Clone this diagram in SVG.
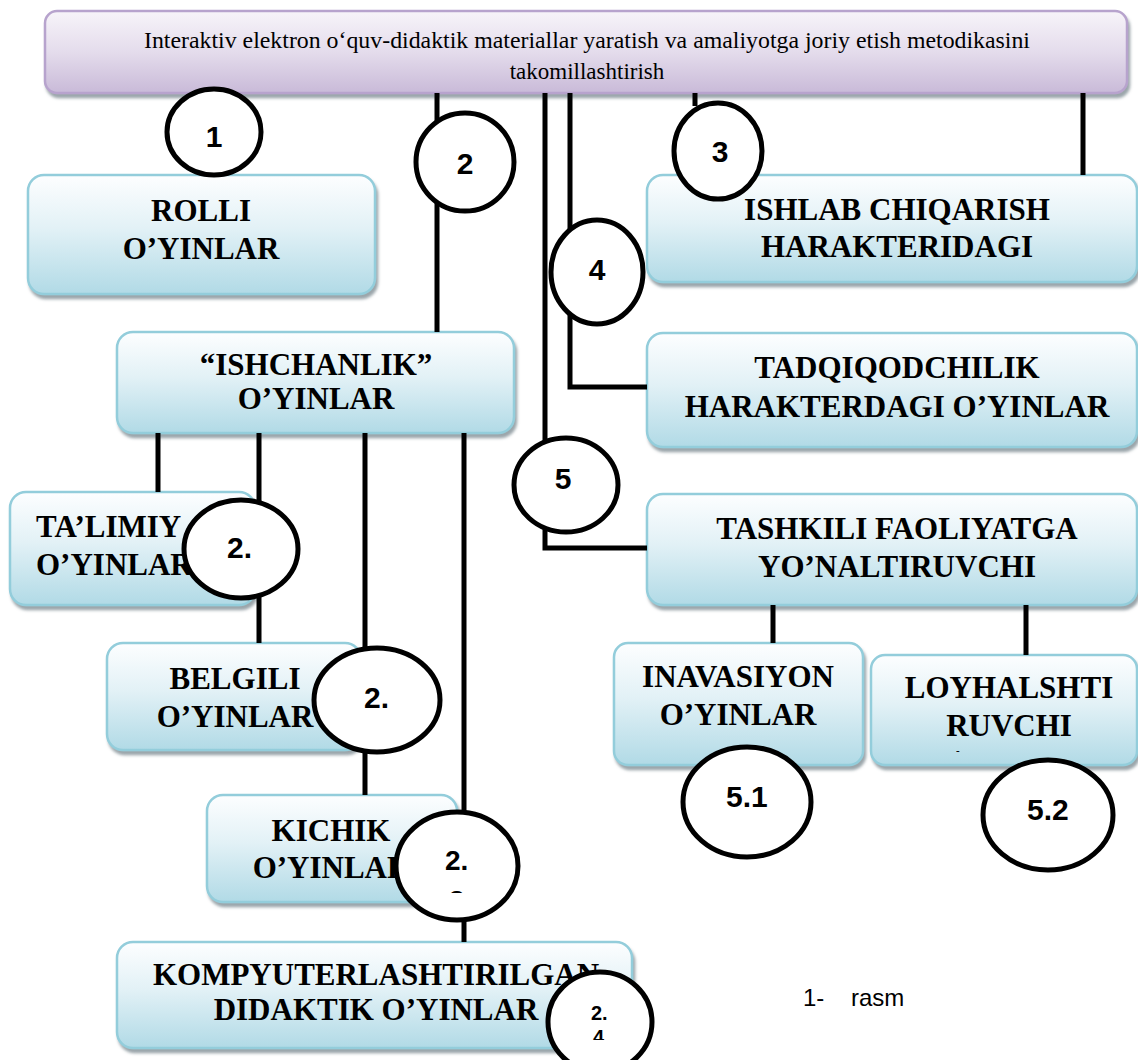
<svg xmlns="http://www.w3.org/2000/svg" width="1138" height="1060" viewBox="0 0 1138 1060">
<defs>
<linearGradient id="gBlue" x1="0" y1="0" x2="0" y2="1">
<stop offset="0" stop-color="#fdfeff"/>
<stop offset="0.45" stop-color="#e2f1f6"/>
<stop offset="1" stop-color="#b1dae6"/>
</linearGradient>
<linearGradient id="gPurple" x1="0" y1="0" x2="0" y2="1">
<stop offset="0" stop-color="#f7f4f9"/>
<stop offset="0.5" stop-color="#e4dcec"/>
<stop offset="1" stop-color="#c9bad8"/>
</linearGradient>
<filter id="shadow" x="-5%" y="-10%" width="115%" height="130%">
<feDropShadow dx="2" dy="4" stdDeviation="1.8" flood-color="#6f7f86" flood-opacity="0.7"/>
</filter>
<clipPath id="clip23"><rect x="400" y="820" width="110" height="73"/></clipPath>
<clipPath id="clip24"><rect x="560" y="990" width="80" height="50"/></clipPath>
</defs>
<style>
.box{fill:url(#gBlue);stroke:#93cddb;stroke-width:2.5;filter:url(#shadow)}
.top{fill:url(#gPurple);stroke:#b7a3cd;stroke-width:2.5;filter:url(#shadow)}
.lbl{font-family:"Liberation Serif","Times New Roman",serif;font-weight:bold;font-size:31px;fill:#000;text-anchor:middle}
.lblS{font-family:"Liberation Serif","Times New Roman",serif;font-weight:bold;font-size:31px;fill:#000}
.head{font-family:"Liberation Serif","Times New Roman",serif;font-size:23px;fill:#000;text-anchor:middle}
.conn{fill:none;stroke:#000;stroke-width:5}
.circ{fill:#fff;stroke:#000;stroke-width:5}
.num{font-family:"Liberation Sans",Arial,sans-serif;font-weight:bold;font-size:30px;fill:#000;text-anchor:middle}
.numS{font-family:"Liberation Sans",Arial,sans-serif;font-weight:bold;font-size:30px;fill:#000}
.cap{font-family:"Liberation Sans",Arial,sans-serif;font-size:24px;fill:#000}
</style>

<g id="node-main">
<rect class="top" x="45" y="11" width="1082" height="82" rx="12"/>
<text class="head" x="587" y="48" textLength="886" lengthAdjust="spacingAndGlyphs">Interaktiv elektron o‘quv-didaktik materiallar yaratish va amaliyotga joriy etish metodikasini</text>
<text class="head" x="587" y="79">takomillashtirish</text>
</g>

<g id="node-rolli">
<rect class="box" x="28" y="175" width="347" height="119" rx="16"/>
<text class="lbl" x="201" y="221">ROLLI</text>
<text class="lbl" x="201" y="259">O’YINLAR</text>
</g>

<g id="node-ishchanlik">
<rect class="box" x="117" y="332" width="397" height="101" rx="16"/>
<text class="lbl" x="316" y="375">“ISHCHANLIK”</text>
<text class="lbl" x="316" y="409">O’YINLAR</text>
</g>

<g id="node-ishlab">
<rect class="box" x="647" y="175" width="490" height="107" rx="16"/>
<text class="lbl" x="897" y="220">ISHLAB CHIQARISH</text>
<text class="lbl" x="897" y="257">HARAKTERIDAGI</text>
</g>

<g id="node-tadqiqod">
<rect class="box" x="647" y="333" width="490" height="114" rx="16"/>
<text class="lbl" x="897" y="378">TADQIQODCHILIK</text>
<text class="lbl" x="897" y="417">HARAKTERDAGI O’YINLAR</text>
</g>

<g id="node-talimiy">
<rect class="box" x="10" y="492" width="245" height="113" rx="16"/>
<text class="lblS" x="36" y="537">TA’LIMIY</text>
<text class="lblS" x="36" y="575">O’YINLAR</text>
</g>

<g id="node-belgili">
<rect class="box" x="107" y="643" width="254" height="107" rx="16"/>
<text class="lbl" x="235" y="689">BELGILI</text>
<text class="lbl" x="235" y="727">O’YINLAR</text>
</g>

<g id="node-tashkili">
<rect class="box" x="647" y="494" width="490" height="111" rx="16"/>
<text class="lbl" x="897" y="539">TASHKILI FAOLIYATGA</text>
<text class="lbl" x="897" y="577">YO’NALTIRUVCHI</text>
</g>

<g id="node-inavasiyon">
<rect class="box" x="614" y="643" width="249" height="122" rx="14"/>
<text class="lbl" x="738" y="687">INAVASIYON</text>
<text class="lbl" x="738" y="725">O’YINLAR</text>
</g>

<g id="node-loyhalshti">
<rect class="box" x="871" y="655" width="266" height="110" rx="14"/>
<text class="lbl" x="1009" y="698">LOYHALSHTI</text>
<text class="lbl" x="1009" y="736">RUVCHI</text>
<text class="lblS" x="956" y="754" style="font-size:11px">-</text>
</g>

<g id="node-kichik">
<rect class="box" x="207" y="795" width="250" height="107" rx="16"/>
<text class="lbl" x="331" y="841">KICHIK</text>
<text class="lbl" x="331" y="878">O’YINLAR</text>
</g>

<g id="node-kompyuter">
<rect class="box" x="117" y="942" width="515" height="106" rx="16"/>
<text class="lbl" x="376" y="985">KOMPYUTERLASHTIRILGAN</text>
<text class="lbl" x="376" y="1020">DIDAKTIK O’YINLAR</text>
</g>

<g id="connectors">
<path class="conn" d="M437 93 V332"/>
<path class="conn" d="M545 93 V548 H647"/>
<path class="conn" d="M570 93 V387 H647"/>
<path class="conn" d="M695 93 V106"/>
<path class="conn" d="M1083 93 V175"/>
<path class="conn" d="M158 433 V492"/>
<path class="conn" d="M259 433 V643"/>
<path class="conn" d="M365 433 V795"/>
<path class="conn" d="M464 433 V942"/>
<path class="conn" d="M773 605 V643"/>
<path class="conn" d="M1026 605 V655"/>
</g>

<g id="badge-1">
<ellipse class="circ" cx="214" cy="132" rx="47" ry="43"/>
<text class="num" x="214" y="147">1</text>
</g>
<g id="badge-2">
<ellipse class="circ" cx="465" cy="162" rx="49" ry="49"/>
<text class="num" x="465" y="174">2</text>
</g>
<g id="badge-3">
<ellipse class="circ" cx="718" cy="151" rx="44" ry="48"/>
<text class="num" x="720" y="162">3</text>
</g>
<g id="badge-4">
<ellipse class="circ" cx="597" cy="272" rx="46" ry="52"/>
<text class="num" x="597" y="280">4</text>
</g>
<g id="badge-5">
<ellipse class="circ" cx="566" cy="485" rx="52" ry="47"/>
<text class="num" x="563" y="489">5</text>
</g>
<g id="badge-2-1">
<ellipse class="circ" cx="241" cy="549" rx="57" ry="49"/>
<text class="numS" x="227" y="558">2.</text>
</g>
<g id="badge-2-2">
<ellipse class="circ" cx="377" cy="700" rx="63" ry="52"/>
<text class="numS" x="364" y="708">2.</text>
</g>
<g id="badge-2-3">
<ellipse class="circ" cx="457" cy="866" rx="61" ry="54"/>
<g clip-path="url(#clip23)">
<text class="numS" x="445" y="870" style="font-size:28px">2.</text>
<text class="numS" x="449" y="910" style="font-size:28px">3</text>
</g>
</g>
<g id="badge-2-4">
<ellipse class="circ" cx="600" cy="1022" rx="52" ry="50"/>
<g clip-path="url(#clip24)">
<text class="numS" x="591" y="1020" style="font-size:20px">2.</text>
<text class="numS" x="593" y="1044" style="font-size:20px">4</text>
</g>
</g>
<g id="badge-5-1">
<ellipse class="circ" cx="747" cy="802" rx="64" ry="55"/>
<text class="numS" x="726" y="807">5.1</text>
</g>
<g id="badge-5-2">
<ellipse class="circ" cx="1048" cy="815" rx="65" ry="55"/>
<text class="numS" x="1027" y="820">5.2</text>
</g>

<g id="caption">
<text class="cap" x="803" y="1006">1-</text>
<text class="cap" x="851" y="1006">rasm</text>
</g>
</svg>
